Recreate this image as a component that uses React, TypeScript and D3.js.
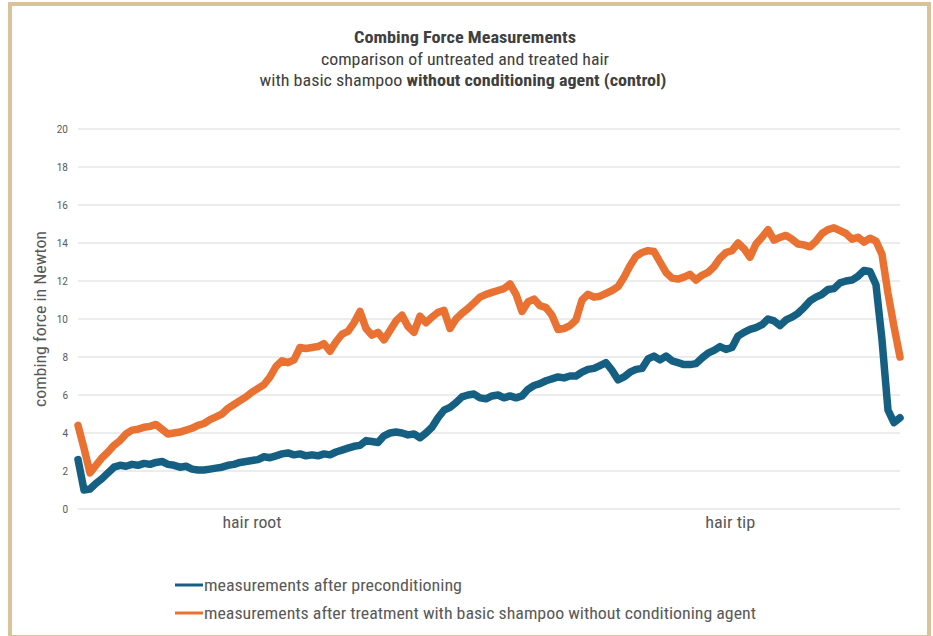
import React from "react";
import * as d3 from "d3";

// ---- data ----
const preconditioning: number[] = [
  2.6, 1.0, 1.05, 1.35, 1.6, 1.9, 2.2, 2.3, 2.25, 2.35,
  2.3, 2.4, 2.35, 2.45, 2.5, 2.35, 2.3, 2.2, 2.25, 2.1,
  2.05, 2.05, 2.1, 2.15, 2.2, 2.3, 2.35, 2.45, 2.5, 2.55,
  2.6, 2.75, 2.7, 2.8, 2.9, 2.95, 2.85, 2.9, 2.8, 2.85,
  2.8, 2.9, 2.85, 3.0, 3.1, 3.2, 3.3, 3.35, 3.6, 3.55,
  3.5, 3.85, 4.0, 4.05, 4.0, 3.9, 3.95, 3.75, 4.0, 4.3,
  4.8, 5.2, 5.35, 5.6, 5.9, 6.0, 6.05, 5.85, 5.8, 5.95,
  6.0, 5.85, 5.95, 5.85, 5.95, 6.3, 6.5, 6.6, 6.75, 6.85,
  6.95, 6.9, 7.0, 7.0, 7.2, 7.35, 7.4, 7.55, 7.7, 7.3,
  6.8, 6.95, 7.2, 7.35, 7.4, 7.9, 8.05, 7.85, 8.05, 7.8,
  7.7, 7.6, 7.6, 7.65, 7.95, 8.2, 8.35, 8.55, 8.4, 8.5,
  9.1, 9.3, 9.45, 9.55, 9.7, 10.0, 9.9, 9.65, 9.95, 10.1,
  10.3, 10.6, 10.95, 11.15, 11.3, 11.55, 11.6, 11.9, 12.0, 12.05,
  12.25, 12.55, 12.5, 11.8, 8.9, 5.2, 4.55, 4.8,
];

const treatedBasicShampoo: number[] = [
  4.4, 3.2, 1.9, 2.3, 2.7, 3.0, 3.35, 3.6, 3.95, 4.15,
  4.2, 4.3, 4.35, 4.45, 4.2, 3.95, 4.0, 4.05, 4.15, 4.25,
  4.4, 4.5, 4.7, 4.85, 5.0, 5.3, 5.5, 5.7, 5.9, 6.15,
  6.35, 6.55, 6.95, 7.5, 7.8, 7.7, 7.85, 8.5, 8.45, 8.5,
  8.55, 8.7, 8.3, 8.8, 9.2, 9.35, 9.8, 10.4, 9.5, 9.15,
  9.3, 8.9, 9.4, 9.9, 10.2, 9.6, 9.3, 10.15, 9.8, 10.1,
  10.35, 10.45, 9.5, 10.0, 10.3, 10.55, 10.85, 11.15, 11.3, 11.4,
  11.5, 11.6, 11.85, 11.3, 10.4, 10.9, 11.05, 10.7, 10.6, 10.2,
  9.45, 9.5, 9.65, 9.95, 11.0, 11.3, 11.15, 11.2, 11.35, 11.5,
  11.7, 12.2, 12.8, 13.3, 13.5, 13.6, 13.55, 13.0, 12.45, 12.15,
  12.1, 12.2, 12.35, 12.05, 12.3, 12.45, 12.75, 13.2, 13.5, 13.6,
  14.0, 13.7, 13.25, 13.95, 14.3, 14.7, 14.15, 14.3, 14.4, 14.2,
  13.95, 13.9, 13.8, 14.1, 14.5, 14.7, 14.8, 14.65, 14.5, 14.2,
  14.3, 14.05, 14.25, 14.1, 13.4, 11.35, 9.6, 8.0,
];

const yTicks: number[] = [0, 2, 4, 6, 8, 10, 12, 14, 16, 18, 20];
const categoryLabels: string[] = ["hair root", "hair tip"];
const categorySamples: number[] = [29, 108.7];
const seriesNames: string[] = [
  "measurements after preconditioning",
  "measurements after treatment with basic shampoo without conditioning agent",
];
const seriesColors: string[] = ["#156082", "#E97132"];

const W = 933;
const H = 636;
const NARROW = "'Liberation Sans Narrow', 'Arial Narrow', 'Roboto Condensed', sans-serif";
const TICKFONT = "Roboto, 'Liberation Sans', sans-serif";
const FS = 16;

export default function App() {
  const n = preconditioning.length;
  const x = d3.scaleLinear().domain([0, n - 1]).range([78, 900]);
  const y = d3.scaleLinear().domain([0, 20]).range([509, 129]);
  const line = d3
    .line<number>()
    .x((_, i) => x(i))
    .y((d) => y(d));

  const series = [preconditioning, treatedBasicShampoo];
  const legendWidths = [258, 552];
  const catWidths = [59, 50];

  return (
    <div style={{ position: "fixed", left: 0, top: 0, width: W, height: H, background: "#fff" }}>
      <svg width={W} height={H} style={{ display: "block" }}>
        <rect x={0} y={0} width={W} height={H} fill="#fff" />
        <rect
          x={10}
          y={4}
          width={919}
          height={633}
          fill="#fff"
          stroke="#D8C39B"
          strokeWidth={4}
        />

        {/* title */}
        <text x={465} y={43} textAnchor="middle" fontFamily={NARROW} fontWeight="bold" fontSize={FS} fill="#404040"
          textLength={222} lengthAdjust="spacingAndGlyphs">
          Combing Force Measurements
        </text>
        <text x={465} y={65} textAnchor="middle" fontFamily={NARROW} fontSize={FS} fill="#404040"
          textLength={288} lengthAdjust="spacingAndGlyphs">
          comparison of untreated and treated hair
        </text>
        <text x={463} y={86} textAnchor="middle" fontFamily={NARROW} fontSize={FS} fill="#404040"
          textLength={407} lengthAdjust="spacingAndGlyphs">
          with basic shampoo <tspan fontWeight="bold">without conditioning agent (control)</tspan>
        </text>

        {/* gridlines & y ticks */}
        {yTicks.map((t) => (
          <g key={t}>
            <line x1={78} x2={900} y1={y(t)} y2={y(t)} stroke="#D9D9D9" strokeWidth={1} />
            <text x={68} y={y(t)} dy="0.35em" textAnchor="end" fontFamily={TICKFONT} fontSize={10} fill="#595959">
              {t}
            </text>
          </g>
        ))}

        {/* y axis title */}
        <text
          transform={`translate(46,${y(10)}) rotate(-90)`}
          textAnchor="middle"
          fontFamily={NARROW}
          fontSize={FS}
          fill="#595959"
          textLength={176}
          lengthAdjust="spacingAndGlyphs"
        >
          combing force in Newton
        </text>

        {/* category labels */}
        {categoryLabels.map((c, i) => (
          <text key={c} x={x(categorySamples[i])} y={528} textAnchor="middle" fontFamily={NARROW} fontSize={FS} fill="#595959"
            textLength={catWidths[i]} lengthAdjust="spacingAndGlyphs">
            {c}
          </text>
        ))}

        {/* series */}
        {series.map((s, k) => (
          <path
            key={k}
            d={line(s) || ""}
            fill="none"
            stroke={seriesColors[k]}
            strokeWidth={7.5}
            strokeLinejoin="round"
            strokeLinecap="round"
          />
        ))}

        {/* legend */}
        {seriesNames.map((name, k) => (
          <g key={name} transform={`translate(175,${585 + k * 28})`}>
            <line x1={0} x2={28} y1={0} y2={0} stroke={seriesColors[k]} strokeWidth={3} />
            <text x={29} y={0} dy="0.35em" fontFamily={NARROW} fontSize={FS} fill="#595959"
              textLength={legendWidths[k]} lengthAdjust="spacingAndGlyphs">
              {name}
            </text>
          </g>
        ))}
      </svg>
    </div>
  );
}
